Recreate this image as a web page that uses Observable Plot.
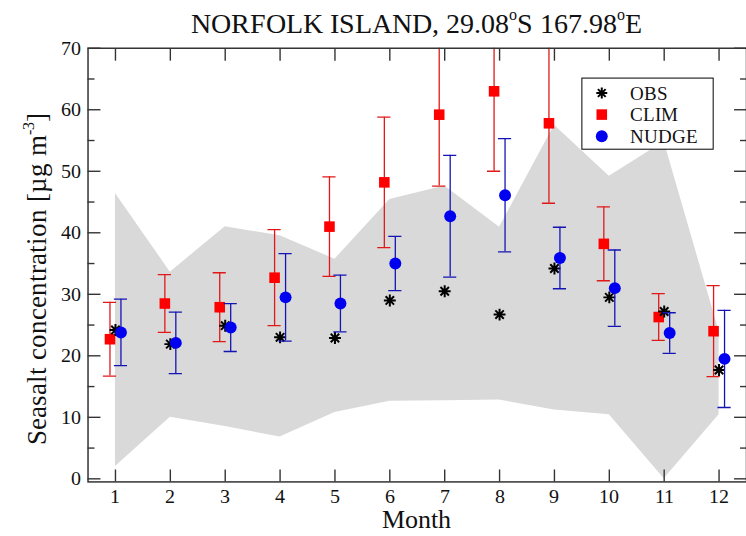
<!DOCTYPE html>
<html>
<head>
<meta charset="utf-8">
<script src="https://cdn.jsdelivr.net/npm/d3@7"></script>
<script src="https://cdn.jsdelivr.net/npm/@observablehq/plot@0.6"></script>
<style>
  @font-face {
    font-family: "ChartSerif";
    src: local("Liberation Serif"), local("LiberationSerif"), local("LiberationSerif-Regular"),
         local("Times New Roman"), local("DejaVu Serif"), local("DejaVuSerif");
  }
  html, body { margin: 0; padding: 0; background: #fff; overflow: hidden; }
  #chart { position: relative; width: 746px; height: 536px; overflow: hidden; }
  #chart svg text { font-family: "ChartSerif", "Liberation Serif", "DejaVu Serif", "Times New Roman", serif; }
</style>
</head>
<body>
<div id="chart"></div>
<script>
// Monthly sea-salt aerosol concentration at Norfolk Island (µg m-3)
const months = [1, 2, 3, 4, 5, 6, 7, 8, 9, 10, 11, 12];

// Observations
const obs = [24.2, 21.9, 24.9, 23.0, 22.9, 29.0, 30.5, 26.7, 34.2, 29.5, 27.2, 17.7];

// Model run with climatological winds: monthly mean and standard deviation
const climMean = [22.7, 28.5, 27.9, 32.7, 41.0, 48.2, 59.2, 63.0, 57.8, 38.2, 26.3, 24.0];
const climSd   = [6.0, 4.7, 5.6, 7.8, 8.1, 10.6, 11.6, 13.0, 13.0, 6.0, 3.8, 7.4];

// Model run nudged to reanalysis winds: monthly mean and standard deviation
const nudgeMean = [23.8, 22.1, 24.6, 29.5, 28.5, 35.0, 42.7, 46.1, 35.9, 31.0, 23.7, 19.5];
const nudgeSd   = [5.4, 5.0, 3.9, 7.1, 4.6, 4.4, 9.9, 9.2, 5.0, 6.2, 3.3, 7.9];

// Observed range (shaded envelope)
const obsLow  = [2.0, 10.0, 8.5, 6.8, 10.8, 12.6, 12.7, 12.8, 11.2, 10.4, 0.0, 10.4];
const obsHigh = [46.4, 33.6, 41.0, 39.5, 35.7, 45.4, 47.6, 40.9, 57.5, 49.2, 54.8, 24.0];

// Axis ticks and legend entries
const monthTicks = months;
const yMajorTicks = [0, 10, 20, 30, 40, 50, 60, 70];
const yMinorTicks = [5, 15, 25, 35, 45, 55, 65];
const seriesNames = ["OBS", "CLIM", "NUDGE"];

const rows = months.map((m, i) => ({
  month: m,
  obs: obs[i],
  clim: climMean[i],
  climLo: climMean[i] - climSd[i],
  climHi: climMean[i] + climSd[i],
  nudge: nudgeMean[i],
  nudgeLo: nudgeMean[i] - nudgeSd[i],
  nudgeHi: nudgeMean[i] + nudgeSd[i],
  low: obsLow[i],
  high: obsHigh[i]
}));

const serif = "ChartSerif, 'Liberation Serif', 'DejaVu Serif', serif";
const RED = "#ff0000", RED_BAR = "#e01818";
const BLUE = "#0000f0", BLUE_BAR = "#1414b4";
const AXIS = "#333";

// eight-armed star used for the observations
const asterisk = {
  draw(ctx, size) {
    const r = Math.sqrt(size / Math.PI);
    for (let k = 0; k < 4; k++) {
      const a = k * Math.PI / 4;
      ctx.moveTo(r * Math.cos(a), r * Math.sin(a));
      ctx.lineTo(-r * Math.cos(a), -r * Math.sin(a));
    }
  }
};

const CLIM_SHIFT = -0.1, NUDGE_SHIFT = 0.1, CAP = 0.12;

function errorBars(lo, hi, shift, stroke) {
  const xc = d => d.month + shift;
  const common = {stroke, strokeWidth: 1.3, clip: true};
  return [
    Plot.ruleX(rows, {x: xc, y1: lo, y2: hi, ...common}),
    Plot.ruleY(rows, {y: lo, x1: d => xc(d) - CAP, x2: d => xc(d) + CAP, ...common}),
    Plot.ruleY(rows, {y: hi, x1: d => xc(d) - CAP, x2: d => xc(d) + CAP, ...common})
  ];
}

const blank = () => "";

const svg = Plot.plot({
  width: 750,
  height: 536,
  marginLeft: 88,
  marginRight: 0,
  marginTop: 48,
  marginBottom: 52,
  x: {domain: [0.5, 12.5], label: null},
  y: {domain: [-0.5, 70], label: null},
  style: {fontFamily: serif, fontSize: "20px", color: "#111", background: "#fff"},
  marks: [
    Plot.areaY(rows, {x: "month", y1: "low", y2: "high", fill: "#d9d9d9"}),
    ...errorBars("climLo", "climHi", CLIM_SHIFT, RED_BAR),
    Plot.dot(rows, {x: d => d.month + CLIM_SHIFT, y: "clim", symbol: "square", r: 6, fill: RED}),
    Plot.dot(rows, {x: "month", y: "obs", symbol: asterisk, r: 6, stroke: "#000", strokeWidth: 2}),
    ...errorBars("nudgeLo", "nudgeHi", NUDGE_SHIFT, BLUE_BAR),
    Plot.dot(rows, {x: d => d.month + NUDGE_SHIFT, y: "nudge", symbol: "circle", r: 6, fill: BLUE}),

    // inward ticks on all four sides
    Plot.axisX(monthTicks, {anchor: "bottom", tickSize: -12, tickFormat: blank, stroke: AXIS, strokeWidth: 1.4}),
    Plot.axisX(monthTicks, {anchor: "top", tickSize: -12, tickFormat: blank, stroke: AXIS, strokeWidth: 1.4}),
    Plot.axisY(yMajorTicks, {anchor: "left", tickSize: -13, tickFormat: blank, stroke: AXIS, strokeWidth: 1.4}),
    Plot.axisY(yMinorTicks, {anchor: "left", tickSize: -7, tickFormat: blank, stroke: AXIS, strokeWidth: 1.4}),
    Plot.axisY(yMajorTicks, {anchor: "right", tickSize: -13, tickFormat: blank, stroke: AXIS, strokeWidth: 1.4}),
    Plot.axisY(yMinorTicks, {anchor: "right", tickSize: -7, tickFormat: blank, stroke: AXIS, strokeWidth: 1.4}),

    // tick labels
    Plot.axisX(monthTicks, {anchor: "bottom", tickSize: 0, tickPadding: 7, fontSize: 20, fill: "#111"}),
    Plot.axisY(yMajorTicks, {anchor: "left", tickSize: 0, tickPadding: 7, fontSize: 20, fill: "#111"}),

    Plot.frame({stroke: AXIS, strokeWidth: 1.5})
  ]
});

const root = d3.select(svg);

// Title with superscript degree marks
const title = root.append("text")
  .attr("x", 419).attr("y", 33)
  .attr("text-anchor", "middle")
  .attr("font-size", 28.5).attr("fill", "#111");
title.append("tspan").text("NORFOLK ISLAND, 29.08");
title.append("tspan").attr("dy", -13).attr("font-size", 16).text("o");
title.append("tspan").attr("dy", 13).text("S 167.98");
title.append("tspan").attr("dy", -13).attr("font-size", 16).text("o");
title.append("tspan").attr("dy", 13).text("E");

// Axis titles
root.append("text")
  .attr("x", 419).attr("y", 531)
  .attr("text-anchor", "middle")
  .attr("font-size", 26).attr("fill", "#111")
  .text("Month");

const ylab = root.append("text")
  .attr("transform", "translate(46,280) rotate(-90)")
  .attr("text-anchor", "middle")
  .attr("font-size", 27).attr("fill", "#111");
ylab.append("tspan").text("Seasalt concentration [µg m");
ylab.append("tspan").attr("dy", -12).attr("font-size", 16).text("-3");
ylab.append("tspan").attr("dy", 12).text("]");

// Legend box
const legend = root.append("g").attr("transform", "translate(585,78.5)");
legend.append("rect")
  .attr("width", 132).attr("height", 71.5)
  .attr("fill", "#fff").attr("stroke", "#000").attr("stroke-width", 1);
const legendStyles = [
  {type: asterisk, fill: "none", stroke: "#000", sw: 2, r: 5.5},
  {type: d3.symbolSquare, fill: RED, stroke: "none", sw: 0, r: 6},
  {type: d3.symbolCircle, fill: BLUE, stroke: "none", sw: 0, r: 6}
];
seriesNames.forEach((name, i) => {
  const y = 15 + i * 21.7;
  const s = legendStyles[i];
  legend.append("path")
    .attr("transform", `translate(20,${y})`)
    .attr("d", d3.symbol(s.type, Math.PI * s.r * s.r)())
    .attr("fill", s.fill).attr("stroke", s.stroke).attr("stroke-width", s.sw);
  legend.append("text")
    .attr("x", 48).attr("y", y).attr("dy", "0.35em")
    .attr("text-anchor", "start")
    .attr("font-size", 19.5).attr("fill", "#111")
    .text(name);
});

document.getElementById("chart").appendChild(svg);
</script>
</body>
</html>
